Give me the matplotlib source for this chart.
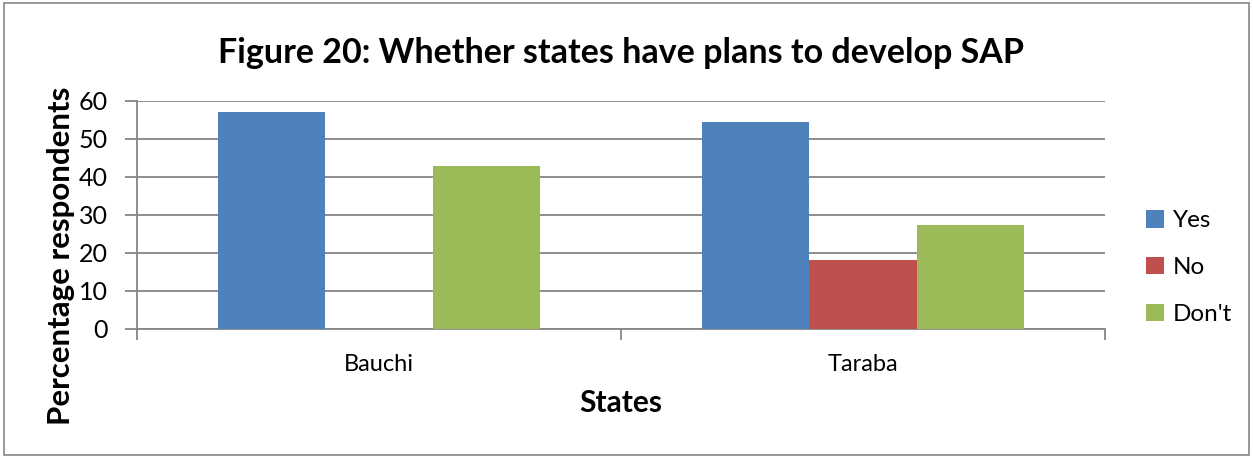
import numpy as np
import matplotlib.pyplot as plt
from matplotlib.patches import Rectangle

states = ["Bauchi", "Taraba"]
series = ["Yes", "No", "Don't"]
yes = [57.1, 54.5]
no = [0.0, 18.2]
dont = [42.9, 27.3]
colors = ["#4F81BD", "#C0504D", "#9BBB59"]

plt.rcParams['font.family'] = ['Lato', 'DejaVu Sans']

fig = plt.figure(figsize=(12.53, 4.58), dpi=100)
ax = fig.add_axes([0.1093, 0.2817, 0.7726, 0.4983])

# outer chart border
fig.patches.append(Rectangle((0.003, 0.006), 0.994, 0.988, transform=fig.transFigure,
                             fill=False, edgecolor="#868686", linewidth=1.2))

x = np.arange(len(states))
w = 1 / 4.5
for i, (vals, lab) in enumerate(zip([yes, no, dont], series)):
    ax.bar(x + (i - 1) * w, vals, width=w, color=colors[i], label=lab, zorder=3)

ax.set_xlim(-0.5, 1.5)
ax.set_ylim(0, 60)
ax.set_yticks(range(0, 61, 10))
ax.yaxis.grid(True, color="#868686", linewidth=1.3, zorder=0)

for s in ["top", "right"]:
    ax.spines[s].set_visible(False)
for s in ["left", "bottom"]:
    ax.spines[s].set_color("#868686")
    ax.spines[s].set_linewidth(1.3)

# category labels centered, tick marks at category boundaries
ax.set_xticks([-0.5, 0.5, 1.5])
ax.set_xticklabels([])
ax.set_xticks(x, minor=True)
ax.set_xticklabels(states, minor=True, fontsize=17)
ax.tick_params(axis="x", which="major", length=8, width=1.3, color="#868686")
ax.tick_params(axis="x", which="minor", length=0, pad=18)
ax.tick_params(axis="y", length=9, width=1.3, color="#868686", labelsize=18, pad=12)

ax.set_title("Figure 20: Whether states have plans to develop SAP",
             fontsize=24.5, fontweight="bold", pad=27)
ax.set_xlabel("States", fontsize=21.5, fontweight="bold", labelpad=10)
ax.set_ylabel("Percentage respondents", fontsize=22.5, fontweight="bold")
ax.yaxis.set_label_coords(-0.064, 0.32)

ax.legend(loc="center left", bbox_to_anchor=(1.02, 0.27), frameon=False,
          fontsize=17.5, handlelength=0.75, handleheight=0.75, labelspacing=1.05,
          handletextpad=0.35)

fig.savefig("out.png", dpi=100)
